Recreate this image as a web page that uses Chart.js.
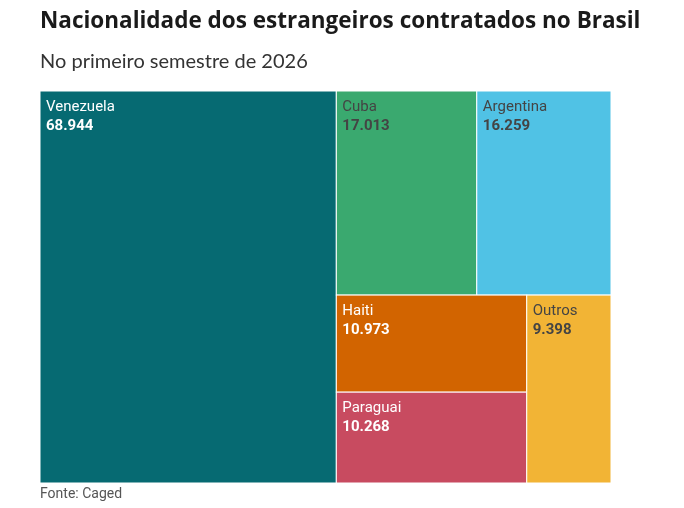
<!DOCTYPE html>
<html>
<head>
<meta charset="utf-8">
<script src="https://cdn.jsdelivr.net/npm/chart.js@4/dist/chart.umd.min.js"></script>
<style>
  html, body { margin: 0; padding: 0; background: #fff; }
  #wrap { width: 684px; height: 508px; }
</style>
</head>
<body>
<div id="wrap"><canvas id="chart"></canvas></div>
<script>
const countries = ["Venezuela", "Cuba", "Argentina", "Haiti", "Paraguai", "Outros"];
const hired = [68944, 17013, 16259, 10973, 10268, 9398];
const sourceNote = "Fonte: Caged";

const cellColors = ["#066a72", "#3aa96f", "#50c2e5", "#d26400", "#c84b60", "#f2b435"];
const labelColors = ["#ffffff", "#444444", "#444444", "#ffffff", "#ffffff", "#444444"];

function fmt(n) {
  return String(n).replace(/\B(?=(\d{3})+(?!\d))/g, ".");
}

// squarified layout (same rule as d3.treemapSquarify, ratio = golden ratio)
function squarify(values, w, h) {
  const ratio = (1 + Math.sqrt(5)) / 2;
  const out = [];
  let x0 = 0, y0 = 0, x1 = w, y1 = h;
  let value = values.reduce((a, b) => a + b, 0);
  let i0 = 0, i1 = 0;
  const n = values.length;
  while (i0 < n) {
    const dx = x1 - x0, dy = y1 - y0;
    let sum = values[i1++];
    let minV = sum, maxV = sum;
    const alpha = Math.max(dy / dx, dx / dy) / (value * ratio);
    let beta = sum * sum * alpha;
    let minRatio = Math.max(maxV / beta, beta / minV);
    for (; i1 < n; ++i1) {
      const v = values[i1];
      sum += v;
      if (v < minV) minV = v;
      if (v > maxV) maxV = v;
      beta = sum * sum * alpha;
      const newRatio = Math.max(maxV / beta, beta / minV);
      if (newRatio > minRatio) { sum -= v; break; }
      minRatio = newRatio;
    }
    if (dx < dy) {
      // row across the top
      const yb = i1 < n ? y0 + dy * sum / value : y1;
      let x = x0;
      for (let i = i0; i < i1; i++) {
        const xe = x + dx * values[i] / sum;
        out[i] = { x0: x, y0: y0, x1: xe, y1: yb };
        x = xe;
      }
      y0 = yb;
    } else {
      // column on the left
      const xb = i1 < n ? x0 + dx * sum / value : x1;
      let y = y0;
      for (let i = i0; i < i1; i++) {
        const ye = y + dy * values[i] / sum;
        out[i] = { x0: x0, y0: y, x1: xb, y1: ye };
        y = ye;
      }
      x0 = xb;
    }
    value -= sum;
    i0 = i1;
  }
  return out;
}

const treemapPlugin = {
  id: "treemap",
  afterDatasetsDraw(chart) {
    const { ctx, chartArea, scales } = chart;
    const w = chartArea.right - chartArea.left;
    const h = chartArea.bottom - chartArea.top;
    const cells = squarify(hired, w, h);
    ctx.save();
    cells.forEach((c, i) => {
      const left = scales.x.getPixelForValue(c.x0 / w);
      const right = scales.x.getPixelForValue(c.x1 / w);
      const top = scales.y.getPixelForValue(c.y0 / h);
      const bottom = scales.y.getPixelForValue(c.y1 / h);
      ctx.fillStyle = cellColors[i];
      ctx.fillRect(left, top, right - left, bottom - top);
      ctx.strokeStyle = "#ffffff";
      ctx.lineWidth = 1;
      ctx.strokeRect(left, top, right - left, bottom - top);

      ctx.fillStyle = labelColors[i];
      ctx.textBaseline = "alphabetic";
      ctx.textAlign = "left";
      ctx.font = "15px Roboto";
      ctx.fillText(countries[i], left + 6, top + 20);
      ctx.font = "bold 15px Roboto";
      ctx.fillText(fmt(hired[i]), left + 6, top + 39);
    });

    // source line under the plot
    ctx.fillStyle = "#555555";
    ctx.font = "14px Roboto";
    ctx.textBaseline = "middle";
    ctx.fillText(sourceNote, chartArea.left, chartArea.bottom + 11);
    ctx.restore();
  }
};

new Chart(document.getElementById("chart"), {
  type: "scatter",
  data: { datasets: [{ data: [], label: "Estrangeiros contratados" }] },
  options: {
    responsive: true,
    maintainAspectRatio: false,
    animation: false,
    layout: { padding: { left: 40, right: 30, top: 0, bottom: 25 } },
    plugins: {
      legend: { display: false },
      tooltip: { enabled: false },
      title: {
        display: true,
        text: "Nacionalidade dos estrangeiros contratados no Brasil",
        align: "start",
        color: "#1a1a1a",
        font: { family: "'Open Sans'", size: 22.5, weight: "bold" },
        padding: { top: 8, bottom: 0 }
      },
      subtitle: {
        display: true,
        text: "No primeiro semestre de 2026",
        align: "start",
        color: "#333333",
        font: { family: "Lato", size: 20, weight: "normal" },
        padding: { top: 15, bottom: 17 }
      }
    },
    scales: {
      x: {
        type: "linear",
        min: 0,
        max: 1,
        display: false
      },
      y: {
        type: "linear",
        min: 0,
        max: 1,
        reverse: true,
        display: false
      },
      // empty right margin so the plot stops short of the title width
      margin: {
        type: "linear",
        position: "right",
        grid: { display: false },
        border: { display: false },
        ticks: { display: false },
        afterFit(scale) { scale.width = 43; }
      }
    }
  },
  plugins: [treemapPlugin]
});
</script>
</body>
</html>
